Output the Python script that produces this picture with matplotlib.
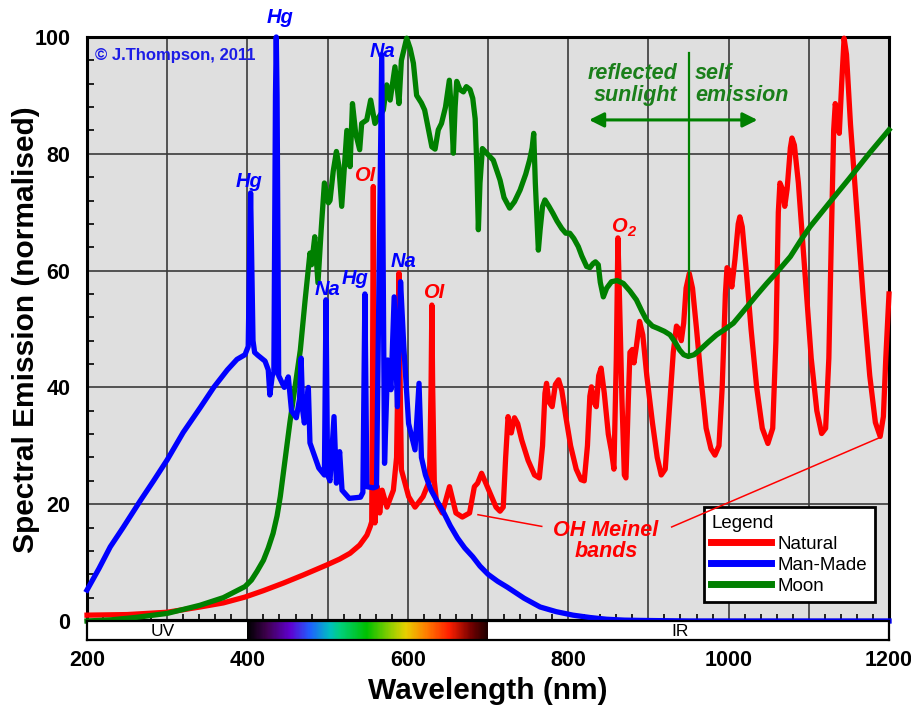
import numpy as np
import matplotlib
matplotlib.use('Agg')
import matplotlib.pyplot as plt
from matplotlib.colors import LinearSegmentedColormap

plt.rcParams['font.family'] = ['Liberation Sans', 'DejaVu Sans']

# --- data (wavelength nm, normalised emission) ---
natural_nm = [200, 250, 300, 341, 370, 397, 420, 445, 470, 499, 515, 528, 540, 549, 553, 555,
              556, 557, 558, 559,
              562, 565, 568, 574, 582, 586, 588, 589, 590, 592, 601, 609, 619, 627, 629,
              630, 631, 633, 636, 643, 652, 660, 668, 677, 683, 687, 692, 701, 710, 715,
              719, 722, 725, 729, 733, 737, 742, 750, 758, 764, 768, 771, 773, 776, 780,
              784, 788, 792, 797, 803, 810, 816, 820, 824, 827, 829, 832, 835, 838, 841,
              845, 850, 854, 857, 860, 862, 864, 867, 870, 872, 875, 877, 880, 882, 885,
              889, 893, 898, 905, 911, 916, 921, 926, 931, 935, 938, 941, 944, 947, 951,
              955, 960, 966, 972, 978, 983, 988, 992, 996, 998, 1001, 1004, 1008, 1012,
              1014, 1017, 1022, 1028, 1035, 1042, 1049, 1055, 1059, 1062, 1064, 1067, 1070,
              1073, 1077, 1079, 1082, 1087, 1095, 1103, 1110, 1116, 1121, 1125, 1128, 1131,
              1133, 1136, 1138, 1141, 1144, 1147, 1152, 1160, 1168, 1176, 1183, 1189, 1193,
              1196, 1200]
natural_val = [1.0, 1.1, 1.5, 2.4, 3.1, 4.1, 5.2, 6.5, 7.9, 9.6, 10.6, 11.6, 13, 14.7, 16.1, 17,
               40, 74.4, 40, 16.8,
               23, 18.5, 22.4, 19.5, 22.4, 28, 45, 59.6, 45, 25.9, 21.3, 19.5, 21.3, 24, 40,
               54.1, 40, 24, 20.2, 18.5, 23, 18.5, 17.8, 18.5, 23, 23.6, 25.3, 22.4, 19.5, 18.8,
               19.5, 28, 35, 32.2, 34.8, 33.8, 31, 27.5, 25, 24.5, 30, 39, 40.7, 37.5, 36.7,
               40.5, 41.3, 39.5, 35, 30, 26, 24.2, 24, 30, 38.5, 40.1, 37.5, 36.7, 42, 43.3,
               39, 32, 29, 26, 45, 65.6, 55, 38, 25, 24.5, 38, 46, 46.5, 44.2, 47,
               51.3, 49, 42, 34, 28, 25, 26, 36, 46, 50.5, 50, 48, 51, 57, 59.5,
               57, 50, 41, 33, 29.5, 28.4, 30, 40, 56, 60.5, 60, 57.2, 62, 68,
               69.2, 67.5, 60, 50, 40, 33, 30.4, 33, 48, 70, 75, 74, 71,
               74, 81, 82.7, 81.5, 75, 60, 45, 36, 32.1, 33, 45, 65, 84,
               88.6, 86, 83.5, 92, 99.8, 97, 85, 70, 55, 42, 34, 31.6, 35,
               45, 56]

manmade_nm = [200, 215, 229, 245, 266, 283, 300, 320, 341, 358, 375, 387, 397, 401, 403, 404,
              405, 407, 409, 413, 422, 426, 428, 431, 433, 435, 436, 437, 439, 446, 451, 455,
              461, 465, 467, 469, 471, 476, 478, 489, 496, 498, 500, 503, 508, 511, 515, 518,
              527, 541, 544, 546.5, 549, 557, 561, 567.5, 571, 575, 579, 583, 587, 591, 595,
              601, 609, 614, 617, 622, 629, 637, 645, 653, 662, 671, 681, 690, 700, 712, 724,
              745, 765, 785, 806, 827, 848, 870, 890, 950, 1200]
manmade_val = [5.3, 9, 12.7, 16, 20.5, 24, 27.6, 32.3, 36.5, 40, 43, 44.8, 45.6, 47, 65, 73.3,
               65, 48, 46, 45.5, 44.5, 43, 38.7, 42, 42.5, 90, 100, 90, 42, 40, 41.8, 36,
               34.8, 38, 45, 36, 33.9, 40, 30.5, 26.2, 25, 55, 25, 24, 35, 23.6, 29, 22.4,
               21, 21.2, 22, 56, 23, 22.8, 23, 97, 27, 44.7, 39.6, 55.5, 36.7, 58.1, 47,
               33.8, 29.3, 40.7, 28, 25, 22.4, 20.4, 18.5, 16.3, 14.2, 12.5, 11, 9.4, 8, 6.8, 5.8,
               3.9, 2.4, 1.6, 1, 0.6, 0.3, 0.15, 0.1, 0, 0]

moon_nm = [200, 230, 260, 300, 341, 370, 397, 405, 412, 420, 426, 432, 437, 441, 445, 449, 453,
           457, 462, 466, 472, 478, 480,
           484, 488, 492, 496, 501, 503, 507, 511, 514, 517.6, 521, 524, 528, 531, 535, 540,
           542.5, 548.8, 553.7, 559, 565, 569.5, 573.7, 578, 581, 584, 587, 589, 592, 598.6,
           603, 607, 611, 617, 621, 626, 630, 634, 638, 642, 647, 651.8, 654, 656.8, 659, 661,
           665, 669.3, 673, 677.6, 681, 684, 686, 688, 690, 693, 699, 706.6, 715, 720, 727,
           733, 740, 747, 752, 755, 757, 759, 762.8, 765, 768, 771, 776, 781, 786, 792, 797,
           802, 807, 812.6, 817, 823, 827, 831, 834, 837.5, 840, 843.8, 848, 854, 861, 868.8,
           877, 885, 892, 897.8, 905, 912, 920, 927, 933, 939, 944, 949.7, 957, 964, 975, 985,
           996, 1006, 1020, 1035, 1047.5, 1062, 1077, 1090, 1101.5, 1125, 1150, 1175, 1200]
moon_val = [0, 0.2, 0.6, 1.3, 2.7, 4, 5.9, 7, 8.5, 10.4, 12.5, 15, 18, 21.3, 25.5, 29.8, 34,
            37.8, 42.5, 46.4, 55, 63, 61,
            65.8, 57.9, 67, 75, 71.6, 72, 77, 80.4, 78, 71, 78, 84, 77.8, 88.6, 83.5, 80.7,
            85.2, 85.8, 89.2, 85.2, 86.5, 87.5, 91.8, 89.2, 92, 94.9, 91, 88.6, 96, 99.8,
            98, 95.5, 90, 88.7, 87.5, 84, 81.2, 80.8, 84.1, 85.2, 88, 92.6, 88, 80.1, 88, 92.4,
            91, 90.6, 91.5, 91, 89.5, 86, 78, 67, 75, 80.9, 80, 78.9, 75.5, 72.5, 70.7,
            71.8, 73.8, 76.5, 79, 81, 83.5, 75, 63.5, 67, 71, 72.1, 71, 69.8, 68.5, 67.2, 66.4,
            66.4, 65.5, 64.1, 62.5, 60.7, 60.5, 61.2, 61.5, 61, 58, 55.5, 57, 58.1, 58.3, 57.8,
            56.5, 55, 53, 51.5, 50.5, 50.1, 49.6, 49, 47.8, 46.4, 45.6, 45.3, 45.6, 46.4, 47.8, 49,
            50, 51, 53.3, 55.8, 57.8, 60, 62.4, 65.2, 67.5, 71.5, 75.7, 80, 84.1]

series_labels = ['Natural', 'Man-Made', 'Moon']

# visible spectrum strip
spectrum_nm = [400, 424, 453, 478, 503, 515, 549, 582, 598, 623, 652, 681, 700]
spectrum_colors = ['#000000', '#400050', '#6000d0', '#2060ff', '#00c0c0', '#00d080',
                   '#00c000', '#a0d000', '#e8d000', '#ff8000', '#ff2000', '#700000', '#200000']

RED, BLUE, GREEN = '#ff0000', '#0000ff', '#008000'
TXT_GREEN = '#1a7f1a'

fig = plt.figure(figsize=(9.12, 7.08), dpi=100)
ax = fig.add_axes([87/912, 1-621/708, 802/912, 584/708])
bar = fig.add_axes([87/912, 1-640/708, 802/912, 19/708])

ax.set_facecolor('#dfdfdf')
ax.set_xlim(200, 1200)
ax.set_ylim(0, 100)

# grid
ax.set_xticks(np.arange(300, 1200, 100))
ax.set_xticks(np.arange(200, 1201, 20), minor=True)
ax.set_yticks(np.arange(0, 101, 20))
ax.set_yticks(np.arange(0, 101, 4), minor=True)
ax.grid(True, which='major', color='#3a3a3a', lw=1.2, zorder=1)
ax.set_axisbelow(True)
ax.tick_params(axis='x', which='major', length=0, labelbottom=False)
ax.tick_params(axis='x', which='minor', direction='in', length=5, width=1.2)
ax.tick_params(axis='y', which='major', length=0, pad=12, labelsize=15.5)
ax.tick_params(axis='y', which='minor', direction='in', length=5, width=1.2)
for lab in ax.get_yticklabels():
    lab.set_fontweight('bold')
for s in ['left', 'right', 'top']:
    ax.spines[s].set_linewidth(2.2)
ax.spines['bottom'].set_linewidth(3)

lw = 3.8
l_nat, = ax.plot(natural_nm, natural_val, color=RED, lw=lw, zorder=3, clip_on=False,
                 solid_joinstyle='round', label=series_labels[0])
l_man, = ax.plot(manmade_nm, manmade_val, color=BLUE, lw=lw, zorder=5, clip_on=False,
                 solid_joinstyle='round', label=series_labels[1])
l_moon, = ax.plot(moon_nm, moon_val, color=GREEN, lw=lw, zorder=4, clip_on=False,
                  solid_joinstyle='round', label=series_labels[2])

# line labels
lab_kw = dict(fontsize=14.5, fontweight='bold', style='italic', ha='center', va='center')
for txt, x, y in [('Hg', 440.6, 103.4), ('Hg', 402, 75.3), ('Na', 569, 97.6),
                  ('Na', 500.5, 56.7), ('Hg', 534, 58.7), ('Na', 595, 61.5)]:
    ax.text(x, y, txt, color=BLUE, clip_on=False, zorder=9, **lab_kw)
for txt, x, y in [('OI', 546.6, 76.2), ('OI', 632.7, 56.3)]:
    ax.text(x, y, txt, color=RED, zorder=9, **lab_kw)
ax.text(863, 67.5, 'O', color=RED, zorder=9, **lab_kw)
ax.annotate('2', xy=(863, 67.5), xytext=(9, -4), textcoords='offset points', color=RED,
            fontsize=10.5, fontweight='bold', style='italic', ha='center', va='center', zorder=9)

ax.text(210, 96.9, '\u00a9 J.Thompson, 2011', color='#1c1ce6', fontsize=12,
        fontweight='bold', ha='left', va='center', zorder=9)

# reflected / self emission marker
ax.plot([950, 950], [45.5, 97.2], color=GREEN, lw=1.6, zorder=6)
ax.annotate('', xy=(826, 85.8), xytext=(1036, 85.8),
            arrowprops=dict(arrowstyle='<|-|>', color=GREEN, lw=2.2, mutation_scale=22,
                            shrinkA=0, shrinkB=0), zorder=6)
ax.text(936, 91.9, 'reflected\nsunlight', color=TXT_GREEN, fontsize=15.5, fontweight='bold',
        style='italic', ha='right', va='center', linespacing=1.05, zorder=9)
ax.text(958, 91.9, 'self\nemission', color=TXT_GREEN, fontsize=15.5, fontweight='bold',
        style='italic', ha='left', va='center', linespacing=1.05, zorder=9)

# OH Meinel bands note
ax.text(847, 13.7, 'OH Meinel\nbands', color=RED, fontsize=15.5, fontweight='bold',
        style='italic', ha='center', va='center', linespacing=1.0, zorder=9)
ax.plot([687.5, 767], [18.2, 16.2], color=RED, lw=1.1, zorder=8)
ax.plot([929, 1186.7], [16.1, 31.3], color=RED, lw=1.1, zorder=8)

leg = ax.legend(handles=[l_nat, l_man, l_moon], title='Legend', loc='lower right',
                bbox_to_anchor=(0.9825, 0.0325), borderaxespad=0, fancybox=False,
                edgecolor='black', framealpha=1, fontsize=13.5, title_fontsize=13.5,
                handlelength=3.2, handletextpad=0.35, labelspacing=0.2, borderpad=0.4,
                alignment='left')
leg.get_frame().set_linewidth(2)
for h in leg.legend_handles:
    h.set_linewidth(5)
leg.set_zorder(7)

# spectrum strip under the axis
cmap = LinearSegmentedColormap.from_list(
    'vis', [((w - 400) / 300, c) for w, c in zip(spectrum_nm, spectrum_colors)])
bar.set_xlim(200, 1200)
bar.set_ylim(0, 1)
bar.imshow(np.linspace(0, 1, 300)[None, :], extent=[400, 700, 0, 1], aspect='auto', cmap=cmap)
bar.text(295, 0.45, 'UV', fontsize=12.5, ha='center', va='center')
bar.text(940, 0.45, 'IR', fontsize=12.5, ha='center', va='center')
bar.set_yticks([])
bar.set_xticks(np.arange(200, 1201, 200))
bar.tick_params(axis='x', length=0, pad=7, labelsize=15.5)
for lab in bar.get_xticklabels():
    lab.set_fontweight('bold')
for s in bar.spines.values():
    s.set_linewidth(1.6)

fig.text(488/912, 1-691/708, 'Wavelength (nm)', fontsize=21.5, fontweight='bold',
         ha='center', va='center')
fig.text(26/912, 1-330/708, 'Spectral Emission (normalised)', fontsize=21.5,
         fontweight='bold', rotation=90, ha='center', va='center')

fig.savefig('out.png', dpi=100)
